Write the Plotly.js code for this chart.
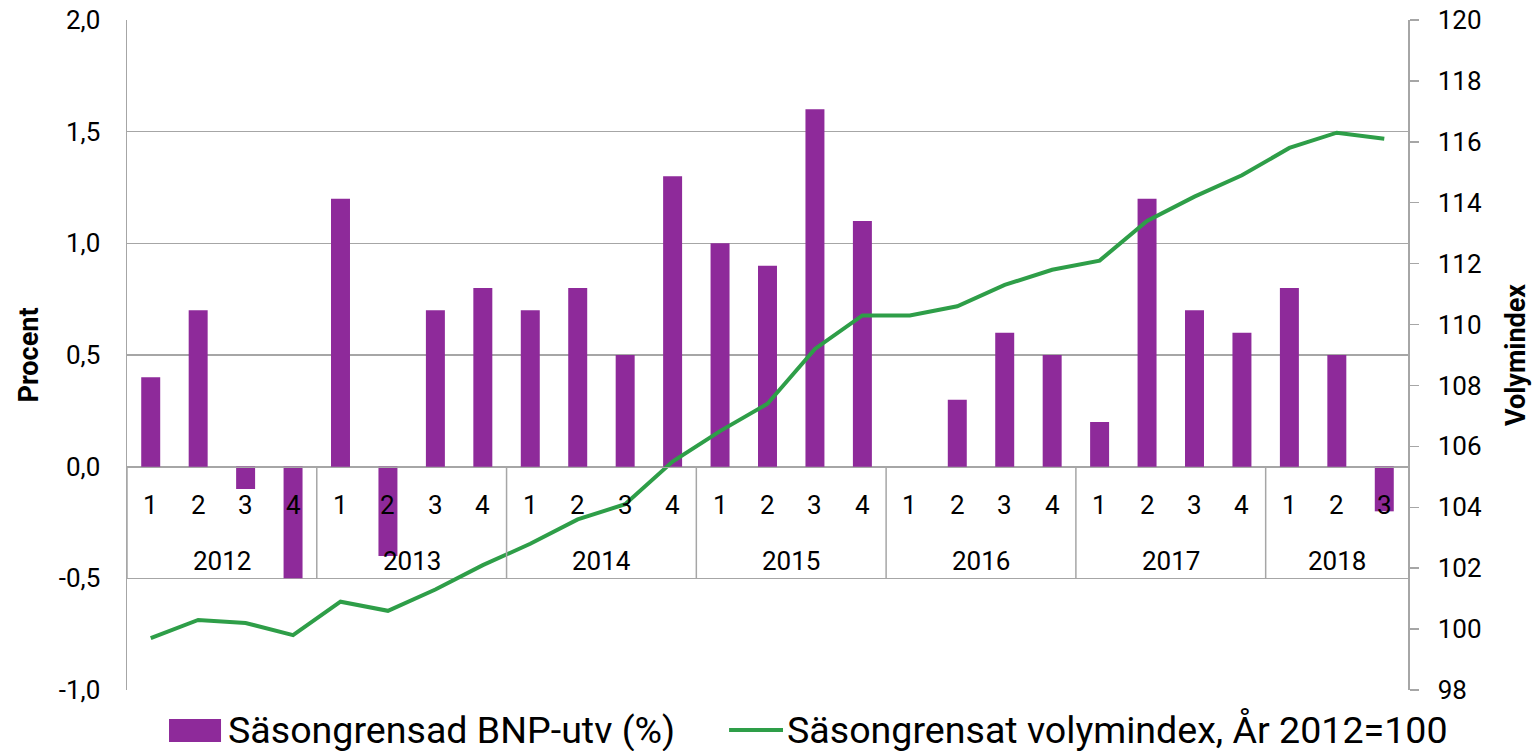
<!DOCTYPE html>
<html>
<head>
<meta charset="utf-8">
<script src="https://cdn.plot.ly/plotly-3.0.1.min.js"></script>
<style>html,body{margin:0;padding:0;background:#fff;}#chart{width:1536px;height:751px;}</style>
</head>
<body>
<div id="chart"></div>
<script>
const catYear = ['2012','2012','2012','2012','2013','2013','2013','2013','2014','2014','2014','2014','2015','2015','2015','2015','2016','2016','2016','2016','2017','2017','2017','2017','2018','2018','2018'];
const catQuarter = ['1','2','3','4','1','2','3','4','1','2','3','4','1','2','3','4','1','2','3','4','1','2','3','4','1','2','3'];
const bnpGrowth = [0.4,0.7,-0.1,-0.5, 1.2,-0.4,0.7,0.8, 0.7,0.8,0.5,1.3, 1.0,0.9,1.6,1.1, 0.0,0.3,0.6,0.5, 0.2,1.2,0.7,0.6, 0.8,0.5,-0.2];
const volIndex = [99.7,100.3,100.2,99.8, 100.9,100.6,101.3,102.1, 102.8,103.6,104.1,105.5, 106.5,107.4,109.2,110.3, 110.3,110.6,111.3,111.8, 112.1,113.4,114.2,114.9, 115.8,116.3,116.1];
const leftTicks = [-1.0,-0.5,0.0,0.5,1.0,1.5,2.0];
const rightTicks = [98,100,102,104,106,108,110,112,114,116,118,120];
const barName = 'Säsongrensad BNP-utv (%)';
const lineName = 'Säsongrensat volymindex, År 2012=100';

const gridCol = '#A6A6A6';
const barCol = '#8E2A9A';
const lineCol = '#2E9E48';
const font = 'Roboto, "Noto Sans", sans-serif';

// unique category keys
const xcat = catYear.map((y, i) => y + ' Q' + catQuarter[i]);

const traces = [
  {type:'bar', name: barName, x: xcat, y: bnpGrowth, marker:{color: barCol}, yaxis:'y', showlegend:false},
  {type:'scatter', mode:'lines', name: lineName, x: xcat, y: volIndex,
   line:{color: lineCol, width:4}, yaxis:'y2', showlegend:false}
];

// category labels inside plot: quarter numbers, years, separators
const annotations = [];
const shapes = [];
xcat.forEach((c, i) => {
  annotations.push({x: c, y: 0, xref:'x', yref:'y', text: catQuarter[i], showarrow:false,
    yanchor:'middle', yshift:-38, font:{size:26, family:font, color:'#000'}});
});
const groups = [];
catYear.forEach((y, i) => {
  if (!groups.length || groups[groups.length-1].year !== y) groups.push({year:y, start:i, end:i});
  else groups[groups.length-1].end = i;
});
groups.forEach(g => {
  annotations.push({x: (g.start + g.end)/2, y: 0, xref:'x', yref:'y', text: g.year, showarrow:false,
    yanchor:'middle', yshift:-94, font:{size:26, family:font, color:'#000'}});
  shapes.push({type:'line', xref:'x', yref:'y', x0: g.start - 0.5, x1: g.start - 0.5, y0: 0, y1: -0.5,
    line:{color: gridCol, width:1.5}});
});

// legend (drawn manually to match the large symbols)
shapes.push({type:'rect', xref:'paper', yref:'paper', x0:0.0328, x1:0.0734, y0:-0.0433, y1:-0.0776,
  fillcolor: barCol, line:{width:0}});
shapes.push({type:'line', xref:'paper', yref:'paper', x0:0.470, x1:0.5121, y0:-0.0597, y1:-0.0597,
  line:{color: lineCol, width:4}});
annotations.push({xref:'paper', yref:'paper', x:0.0770, y:-0.0597, xanchor:'left', yanchor:'middle',
  text: barName, showarrow:false, font:{size:37.6, family:font, color:'#000'}});
annotations.push({xref:'paper', yref:'paper', x:0.5135, y:-0.0597, xanchor:'left', yanchor:'middle',
  text: lineName, showarrow:false, font:{size:37.6, family:font, color:'#000'}});

const layout = {
  width:1536, height:751,
  margin:{l:127, r:128, t:20, b:61, autoexpand:false},
  paper_bgcolor:'#fff', plot_bgcolor:'#fff',
  font:{family:font, color:'#000', size:26},
  bargap:0.6,
  showlegend:false,
  annotations: annotations,
  shapes: shapes,
  xaxis:{type:'category', anchor:'free', position:1/3, range:[-0.5, xcat.length - 0.5],
         showline:true, linecolor:gridCol, linewidth:1.5,
         showgrid:false, ticks:'', showticklabels:false},
  yaxis:{range:[-1,2], tickmode:'array', tickvals:leftTicks,
         ticktext:leftTicks.map(v => v.toFixed(1).replace('.', ',')),
         showgrid:true, gridcolor:gridCol, gridwidth:1.5,
         zeroline:true, zerolinecolor:gridCol, zerolinewidth:1.5,
         showline:true, linecolor:gridCol, linewidth:1.5, ticks:'',
         tickfont:{size:26, family:font, color:'#000'}, ticklabelstandoff:20,
         title:{text:'<b>Procent</b>', font:{size:27, family:font, color:'#000'}, standoff:12}},
  yaxis2:{overlaying:'y', side:'right', range:[98,120], tickmode:'array', tickvals:rightTicks,
          showgrid:false, zeroline:false,
          showline:true, linecolor:gridCol, linewidth:1.5, ticks:'outside', ticklen:9, tickcolor:gridCol, tickwidth:1.5,
          tickfont:{size:26, family:font, color:'#000'}, ticklabelstandoff:14,
          title:{text:'<b>Volymindex</b>', font:{size:27, family:font, color:'#000'}, standoff:25}}
};

Plotly.newPlot('chart', traces, layout, {displayModeBar:false, staticPlot:true});
</script>
</body>
</html>
